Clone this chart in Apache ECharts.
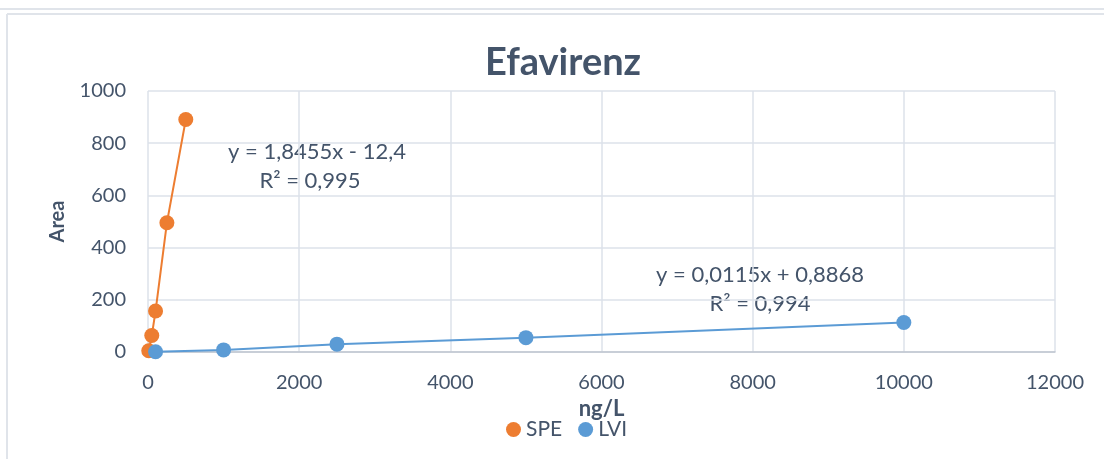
<!DOCTYPE html>
<html><head><meta charset="utf-8">
<script src="https://cdn.jsdelivr.net/npm/echarts@6/dist/echarts.min.js"></script>
<style>html,body{margin:0;padding:0;background:#fff}#c{width:1104px;height:459px}</style>
</head><body><div id="c"></div>
<script>
const titleText = 'Efavirenz';
const xTicks = [0, 2000, 4000, 6000, 8000, 10000, 12000];
const yTicks = [0, 200, 400, 600, 800, 1000];
const speX = [10, 50, 100, 250, 500];
const speY = [5, 63, 157, 495, 891];
const lviX = [100, 1000, 2500, 5000, 10000];
const lviY = [1, 8, 30, 55, 113];
const speEq = ['y = 1,8455x - 12,4', 'R² = 0,995'];
const lviEq = ['y = 0,0115x + 0,8868', 'R² = 0,994'];

const font = 'Lato, "Open Sans", sans-serif';
const txt = '#44546a';
const chart = echarts.init(document.getElementById('c'));
const pair = (xs, ys) => xs.map((x, i) => [x, ys[i]]);
chart.setOption({
  animation: false,
  textStyle: {fontFamily: font},
  title: {text: titleText, left: 485, top: 44, padding: 0, textStyle: {fontSize: 38, fontWeight: 'bold', color: txt, fontFamily: font}},
  grid: {left: 148, right: 49, top: 91, bottom: 107},
  legend: {
    bottom: 14, left: 501, itemWidth: 15, itemHeight: 15, itemGap: 16,
    icon: 'circle', textStyle: {fontSize: 21, color: txt, fontFamily: font},
    data: ['SPE', 'LVI']
  },
  xAxis: {
    type: 'value', min: xTicks[0], max: xTicks[xTicks.length - 1], interval: 2000,
    name: 'ng/L', nameLocation: 'middle', nameGap: 40,
    nameTextStyle: {fontSize: 22, fontWeight: 'bold', color: txt},
    axisLine: {show: true, lineStyle: {color: '#bfc5cf', width: 1.5}},
    axisTick: {show: false},
    axisLabel: {fontSize: 20, color: txt, margin: 21, formatter: v => String(v)},
    splitLine: {show: true, lineStyle: {color: '#dde2ea', width: 1.5}}
  },
  yAxis: {
    type: 'value', min: yTicks[0], max: yTicks[yTicks.length - 1], interval: 200,
    name: 'Area', nameLocation: 'middle', nameGap: 80,
    nameTextStyle: {fontSize: 20, fontWeight: 'bold', color: txt},
    axisLine: {show: false}, axisTick: {show: false},
    axisLabel: {fontSize: 20, color: txt, margin: 22, formatter: v => String(v)},
    splitLine: {show: true, lineStyle: {color: '#dde2ea', width: 1.5}}
  },
  series: [
    {name: 'SPE', type: 'line', data: pair(speX, speY), symbol: 'circle', symbolSize: 15,
     itemStyle: {color: '#ed7d31'}, lineStyle: {color: '#ed7d31', width: 2}, z: 3},
    {name: 'LVI', type: 'line', data: pair(lviX, lviY), symbol: 'circle', symbolSize: 15,
     itemStyle: {color: '#5b9bd5'}, lineStyle: {color: '#5b9bd5', width: 2}, z: 4}
  ],
  graphic: [
    {type: 'line', shape: {x1: 0, y1: 9, x2: 1104, y2: 9}, style: {stroke: '#e0e4ea', lineWidth: 2}},
    {type: 'line', shape: {x1: 7, y1: 14, x2: 1104, y2: 14}, style: {stroke: '#e0e4ea', lineWidth: 2}},
    {type: 'line', shape: {x1: 7, y1: 14, x2: 7, y2: 459}, style: {stroke: '#e0e4ea', lineWidth: 2}},
    {type: 'text', x: 317, y: 152, style: {text: speEq[0], fontSize: 22, fill: txt, fontFamily: font, align: 'center', verticalAlign: 'middle'}},
    {type: 'text', x: 310, y: 181, style: {text: speEq[1], fontSize: 22, fill: txt, fontFamily: font, align: 'center', verticalAlign: 'middle'}},
    {type: 'text', x: 760, y: 275, style: {text: lviEq[0], fontSize: 22, fill: txt, fontFamily: font, align: 'center', verticalAlign: 'middle'}},
    {type: 'text', x: 760, y: 304, style: {text: lviEq[1], fontSize: 22, fill: txt, fontFamily: font, align: 'center', verticalAlign: 'middle'}}
  ]
});
</script></body></html>
